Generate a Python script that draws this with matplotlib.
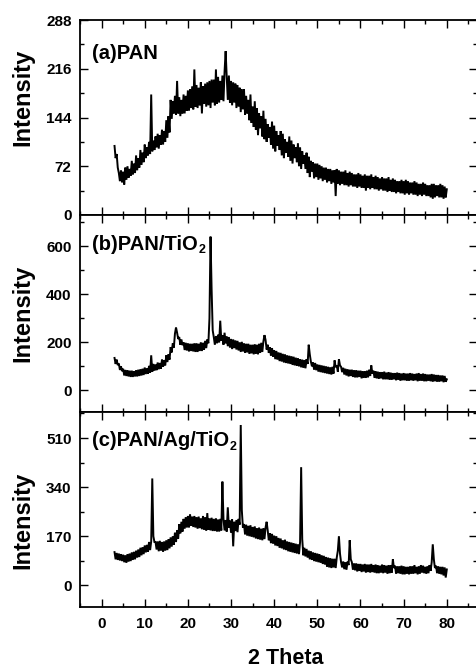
import numpy as np
import matplotlib
matplotlib.use("Agg")
import matplotlib.pyplot as plt
from matplotlib.ticker import MultipleLocator

plt.rcParams['font.family'] = ['Liberation Sans', 'DejaVu Sans']
plt.rcParams['font.weight'] = 'bold'

# 2-theta sampling grid (deg), 0.25 deg steps from 3 to 80
two_theta = np.arange(3.0, 80.001, 0.25)

# (a) PAN
pan = [
    102, 84, 90, 70,   62, 50, 66, 48,   64, 45, 70, 52,   72, 55, 68, 58,
    80, 60, 76, 62,    88, 66, 84, 70,   96, 74, 92, 78,   104, 84, 100, 88,
    108, 90, 178, 94,  110, 96, 116, 100, 120, 98, 118, 104, 126, 104, 124, 108,
    140, 114, 146, 122, 170, 142, 168, 150, 176, 148, 198, 150, 174, 146, 170, 150,
    178, 150, 176, 154, 184, 154, 186, 158, 190, 156, 215, 160, 192, 158, 188, 162,
    196, 150, 190, 164, 194, 160, 196, 162, 198, 158, 200, 166, 200, 162, 215, 164,
    204, 166, 198, 170, 206, 168, 212, 242, 204, 170, 206, 166, 198, 162, 196, 166,
    194, 158, 192, 160, 188, 152, 186, 156, 186, 148, 176, 150, 170, 140, 178, 136,
    160, 130, 168, 126, 158, 118, 150, 128, 146, 116, 154, 112, 142, 108, 134, 114,
    130, 104, 138, 98, 132, 94, 124, 102,  118, 96, 124, 88,  120, 84, 112, 92,
    108, 86, 116, 80,  110, 76, 104, 84,  100, 78, 106, 72,  100, 68, 94, 76,
    88, 68, 92, 62,    86, 56, 80, 64,    78, 54, 76, 56,    76, 52, 74, 54,
    72, 50, 70, 52,    70, 48, 68, 50,    68, 46, 66, 48,    66, 28, 68, 46,
    66, 44, 64, 46,    64, 44, 66, 44,    62, 42, 64, 44,    62, 42, 60, 42,
    60, 40, 62, 42,    60, 40, 58, 40,    60, 36, 58, 40,    58, 38, 60, 40,
    56, 38, 58, 38,    56, 36, 54, 38,    56, 36, 54, 36,    54, 34, 56, 36,
    52, 34, 54, 34,    52, 32, 50, 34,    50, 32, 52, 32,    50, 30, 52, 32,
    50, 30, 48, 32,    48, 30, 50, 30,    48, 28, 46, 30,    46, 28, 48, 30,
    46, 28, 44, 28,    44, 26, 46, 24,    46, 26, 44, 28,    44, 26, 46, 26,
    44, 24, 42, 26,    38,
]

# (b) PAN/TiO2
pan_tio2 = [
    135, 110, 128, 105, 112, 85, 100, 80,  90, 62, 85, 60,    84, 58, 82, 56,
    82, 56, 80, 58,    84, 58, 86, 60,    88, 62, 90, 64,    95, 68, 92, 70,
    102, 74, 146, 78,  110, 82, 108, 84,  116, 88, 114, 90,  128, 98, 126, 104,
    146, 118, 150, 128, 180, 158, 196, 178, 236, 262, 240, 214, 222, 190, 212, 188,
    200, 168, 198, 166, 196, 162, 194, 164, 194, 162, 196, 160, 196, 160, 194, 164,
    200, 164, 198, 170, 206, 176, 212, 196, 300, 640, 420, 250, 222, 190, 226, 196,
    232, 200, 290, 206, 230, 190, 240, 196, 224, 184, 222, 178, 214, 172, 212, 176,
    208, 170, 206, 166, 200, 160, 202, 162, 196, 156, 194, 158, 194, 152, 190, 154,
    190, 150, 192, 152, 190, 150, 194, 156, 198, 160, 204, 230, 210, 170, 190, 156,
    180, 144, 176, 140, 166, 130, 164, 128, 158, 122, 156, 120, 152, 116, 150, 114,
    146, 112, 144, 110, 142, 106, 140, 104, 136, 102, 134, 100, 130, 96, 128, 94,
    126, 92, 130, 110, 190, 150, 120, 100, 116, 86, 114, 84,  108, 78, 106, 76,
    104, 74, 102, 72,  100, 70, 98, 68,   96, 66, 98, 70,    125, 96, 104, 78,
    130, 104, 98, 76,  94, 66, 90, 62,    88, 58, 86, 60,    86, 56, 84, 54,
    84, 54, 82, 56,    82, 50, 80, 52,    80, 52, 82, 54,    86, 60, 104, 70,
    82, 52, 80, 50,    78, 48, 76, 50,    76, 46, 78, 46,    74, 46, 76, 44,
    74, 44, 72, 46,    72, 42, 74, 44,    72, 40, 70, 42,    72, 42, 70, 40,
    70, 40, 72, 42,    70, 40, 68, 42,    70, 38, 72, 40,    68, 40, 70, 38,
    68, 38, 66, 40,    66, 38, 68, 36,    66, 38, 64, 36,    64, 36, 62, 38,
    62, 34, 60, 36,    46,
]

# (c) PAN/Ag/TiO2
pan_ag_tio2 = [
    115, 90, 112, 88,  110, 86, 108, 84,  106, 80, 104, 78,  108, 82, 110, 84,
    114, 88, 116, 90,  120, 96, 124, 98,  130, 104, 132, 108, 138, 114, 140, 116,
    150, 122, 152, 370, 170, 150, 150, 124, 152, 118, 154, 120, 150, 116, 152, 120,
    156, 122, 160, 128, 166, 134, 170, 140, 182, 150, 190, 162, 212, 180, 220, 186,
    230, 196, 236, 200, 240, 200, 246, 206, 238, 202, 240, 200, 236, 196, 238, 198,
    232, 194, 240, 192, 236, 190, 250, 192, 232, 190, 234, 188, 230, 188, 232, 186,
    228, 186, 230, 190, 359, 230, 190, 226, 186, 270, 200, 224, 182, 228, 135, 220,
    188, 226, 184, 230, 210, 555, 260, 200, 212, 176, 210, 172, 206, 170, 208, 168,
    202, 166, 204, 162, 198, 160, 200, 158, 196, 156, 198, 160, 200, 220, 190, 156,
    180, 146, 178, 144, 172, 138, 170, 136, 164, 130, 162, 128, 156, 124, 158, 122,
    152, 118, 150, 116, 148, 114, 146, 112, 144, 110, 142, 108, 150, 409, 160, 104,
    130, 100, 126, 96, 120, 90, 118, 88,  114, 84, 112, 82,  110, 80, 108, 78,
    104, 74, 102, 72,  98, 64, 96, 62,    94, 60, 92, 62,    92, 60, 96, 120,
    170, 110, 80, 62,  82, 56, 80, 54,    82, 70, 156, 90,   80, 54, 76, 52,
    76, 48, 74, 50,    74, 46, 72, 48,    74, 44, 72, 46,    72, 44, 74, 46,
    70, 44, 72, 42,    70, 42, 68, 44,    72, 42, 70, 44,    68, 40, 70, 42,
    70, 44, 90, 60,    68, 40, 66, 42,    66, 40, 68, 38,    66, 38, 64, 40,
    64, 38, 66, 40,    66, 40, 70, 42,    64, 38, 66, 40,    70, 44, 68, 42,
    64, 40, 66, 42,    70, 50, 80, 142,   90, 60, 68, 42,    66, 40, 64, 38,
    64, 34, 62, 27,    55,
]

series = [pan, pan_tio2, pan_ag_tio2]
labels_main = ['(a)PAN', '(b)PAN/TiO', '(c)PAN/Ag/TiO']
labels_sub = ['', '2', '2']
ylims = [(0, 288), (-90, 730), (-75, 600)]
ymajor = [72, 200, 170]
x_ticks = [0, 10, 20, 30, 40, 50, 60, 70, 80]

W, H = 477, 669
fig = plt.figure(figsize=(W / 100, H / 100), dpi=100)
panels_px = [(20, 215), (215, 412), (412, 607)]
left_px = 80
label_y = [0.605, 0.5, 0.446]
text_y = [0.877, 0.90, 0.90]

for i, (top, bot) in enumerate(panels_px):
    ax = fig.add_axes([left_px / W, 1 - bot / H, 1 - left_px / W, (bot - top) / H])
    ax.plot(two_theta, series[i], color='black', lw=1.4, solid_joinstyle='miter')
    ax.set_xlim(-5, 87)
    ax.set_ylim(*ylims[i])
    ax.xaxis.set_major_locator(MultipleLocator(10))
    ax.xaxis.set_minor_locator(MultipleLocator(5))
    ax.yaxis.set_major_locator(MultipleLocator(ymajor[i]))
    ax.yaxis.set_minor_locator(MultipleLocator(ymajor[i] / 2))
    ax.tick_params(which='both', direction='in', top=True, right=True, width=1.0)
    ax.tick_params(which='major', length=5.5)
    ax.tick_params(which='minor', length=3)
    ax.tick_params(axis='y', labelsize=11, pad=6)
    ax.tick_params(axis='x', labelsize=11, pad=7.5)
    for s in ax.spines.values():
        s.set_linewidth(1.3)
    ax.spines['right'].set_visible(False)
    ax.set_ylabel('Intensity', fontsize=17, fontweight='bold')
    ax.yaxis.set_label_coords(-0.116, label_y[i])
    t = ax.text(0.029, text_y[i], labels_main[i], transform=ax.transAxes,
                fontsize=14.5, fontweight='bold', va='top', ha='left')
    if labels_sub[i]:
        ax.annotate(labels_sub[i], xy=(1.0, 0.0), xycoords=t,
                    xytext=(0.8, -1.5), textcoords='offset points',
                    fontsize=9, fontweight='bold', ha='left', va='bottom')
    if i < 2:
        ax.tick_params(axis='x', labelbottom=False)
    else:
        ax.set_xticks(x_ticks)
        ax.set_xlabel('2 Theta', fontsize=15.5, fontweight='bold')
        ax.xaxis.set_label_coords(0.518, -0.212)
    for tl in ax.get_xticklabels() + ax.get_yticklabels():
        tl.set_fontweight('bold')

fig.savefig('out.png', dpi=100)
